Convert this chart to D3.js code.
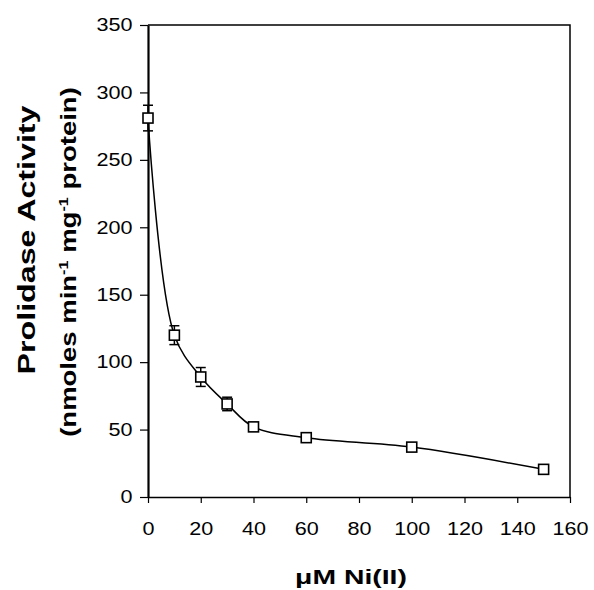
<!DOCTYPE html>
<html>
<head>
<meta charset="utf-8">
<script src="https://cdn.jsdelivr.net/npm/d3@7"></script>
<style>
  html, body { margin: 0; padding: 0; background: #fff; }
  svg { display: block; }
  text { font-family: "Liberation Sans", Arial, Helvetica, sans-serif; fill: #000; }
</style>
</head>
<body>
<svg id="chart" width="594" height="590"></svg>
<script>
// ---- data ----
const concentrations = [0, 10, 20, 30, 40, 60, 100, 150];      // µM Ni(II)
const activity       = [281, 120, 89, 69, 52, 44, 37, 20.5];   // nmoles min-1 mg-1 protein
const errors         = [9.5, 7, 7, 5, 3, 3, 3, 1.5];
const xTicks = [0, 20, 40, 60, 80, 100, 120, 140, 160];
const yTicks = [0, 50, 100, 150, 200, 250, 300, 350];

// ---- layout ----
const svg = d3.select("#chart");
const mLeft = 148, mTop = 25, mRight = 570, mBottom = 497;

const x = d3.scaleLinear().domain([0, 160]).range([mLeft, mRight]);
const y = d3.scaleLinear().domain([0, 350]).range([mBottom, mTop]);

// frame (top and right)
svg.append("path")
  .attr("d", `M${mLeft},${mTop}H${mRight}V${mBottom}`)
  .attr("fill", "none").attr("stroke", "#000").attr("stroke-width", 1.5);

// x axis
const xAxis = svg.append("g")
  .attr("transform", `translate(0,${mBottom})`)
  .call(d3.axisBottom(x).tickValues(xTicks).tickSize(6).tickPadding(19).tickSizeOuter(0));
xAxis.select(".domain").attr("stroke-width", 1.5);
xAxis.selectAll(".tick line").attr("stroke-width", 1.2);
xAxis.selectAll(".tick text")
  .attr("font-size", 18).attr("font-family", "Liberation Sans, Arial, sans-serif")
  .attr("transform", "scale(1.2,1)");

// y axis
const yAxis = svg.append("g")
  .attr("transform", `translate(${mLeft},0)`)
  .call(d3.axisLeft(y).tickValues(yTicks).tickSize(8).tickPadding(5).tickSizeOuter(0));
yAxis.select(".domain").attr("stroke-width", 2.2);
yAxis.selectAll(".tick line").attr("stroke-width", 1.2);
yAxis.selectAll(".tick text")
  .attr("font-size", 18).attr("font-family", "Liberation Sans, Arial, sans-serif")
  .attr("transform", "scale(1.2,1)");

// data line
const pts = concentrations.map((c, i) => [c, activity[i]]);
const line = d3.line()
  .x(d => x(d[0])).y(d => y(d[1]))
  .curve(d3.curveCatmullRom.alpha(0.5));
svg.append("path")
  .attr("d", line(pts))
  .attr("fill", "none").attr("stroke", "#000").attr("stroke-width", 1.5);

// error bars
const eb = svg.append("g").attr("stroke", "#000").attr("stroke-width", 1.5);
concentrations.forEach((c, i) => {
  const cx = x(c), y1 = y(activity[i] + errors[i]), y2 = y(activity[i] - errors[i]);
  eb.append("line").attr("x1", cx).attr("x2", cx).attr("y1", y1).attr("y2", y2);
  eb.append("line").attr("x1", cx - 5).attr("x2", cx + 5).attr("y1", y1).attr("y2", y1);
  eb.append("line").attr("x1", cx - 5).attr("x2", cx + 5).attr("y1", y2).attr("y2", y2);
});

// markers
svg.append("g").selectAll("rect").data(pts).join("rect")
  .attr("x", d => x(d[0]) - 5).attr("y", d => y(d[1]) - 5)
  .attr("width", 10).attr("height", 10)
  .attr("fill", "#fff").attr("stroke", "#000").attr("stroke-width", 1.6);

// x title
svg.append("text")
  .attr("transform", `translate(351,584) scale(1.35,1)`)
  .attr("text-anchor", "middle").attr("font-size", 21).attr("font-weight", "bold")
  .text("\u03BCM Ni(II)");

// y title
const yt = svg.append("g");
yt.append("text")
  .attr("transform", `translate(35,240) rotate(-90) scale(1.4,1)`)
  .attr("text-anchor", "middle").attr("font-size", 23).attr("font-weight", "bold")
  .text("Prolidase Activity");
const t2 = yt.append("text")
  .attr("transform", `translate(76,262) rotate(-90) scale(1.25,1)`)
  .attr("text-anchor", "middle").attr("font-size", 22).attr("font-weight", "bold");
t2.append("tspan").text("(nmoles min");
t2.append("tspan").attr("dy", -8).attr("font-size", 13).text("-1");
t2.append("tspan").attr("dy", 8).text(" mg");
t2.append("tspan").attr("dy", -8).attr("font-size", 13).text("-1");
t2.append("tspan").attr("dy", 8).text(" protein)");
</script>
</body>
</html>
